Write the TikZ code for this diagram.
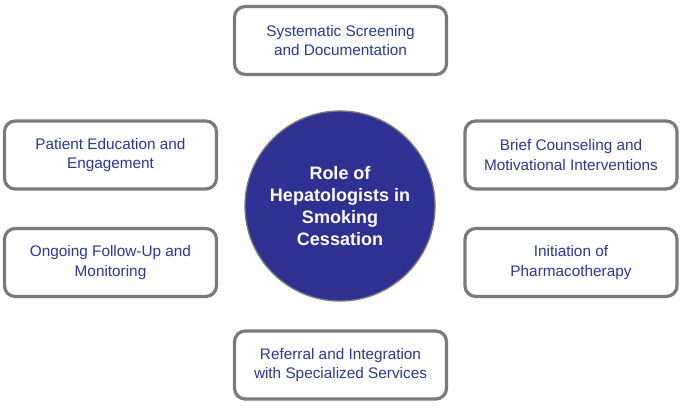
\documentclass[tikz,border=0pt]{standalone}
\usepackage{fontspec}
\setmainfont{Liberation Sans}
\definecolor{navy}{HTML}{2E3192}
\definecolor{txt}{HTML}{2B3990}
\definecolor{bord}{HTML}{7A7A7A}
\begin{document}
\begin{tikzpicture}[x=0.75pt,y=-0.75pt,
  box/.style={draw=bord,line width=2.4pt,rounded corners=8pt,fill=white,minimum width=212*0.75pt,minimum height=68*0.75pt,align=center,text=txt,font=\fontsize{11.5}{14.5}\selectfont},
  hub/.style={circle,fill=navy,draw=bord,line width=1pt,minimum size=190*0.75pt,align=center,text=white,font=\bfseries\fontsize{13.5}{16.5}\selectfont}]
\useasboundingbox (0,0) rectangle (685,407);
\node[hub] (c) at (340,206) {Role of\\Hepatologists in\\Smoking\\Cessation};
\node[box] (t) at (340.5,40.5) {Systematic Screening\\and Documentation};
\node[box] (lt) at (110.5,155) {Patient Education and\\Engagement};
\node[box] (rt) at (571,155) {Brief Counseling and\\Motivational Interventions};
\node[box] (lb) at (110.5,262.5) {Ongoing Follow-Up and\\Monitoring};
\node[box] (rb) at (571,262.5) {Initiation of\\Pharmacotherapy};
\node[box] (b) at (340.5,365) {Referral and Integration\\with Specialized Services};
\end{tikzpicture}
\end{document}
